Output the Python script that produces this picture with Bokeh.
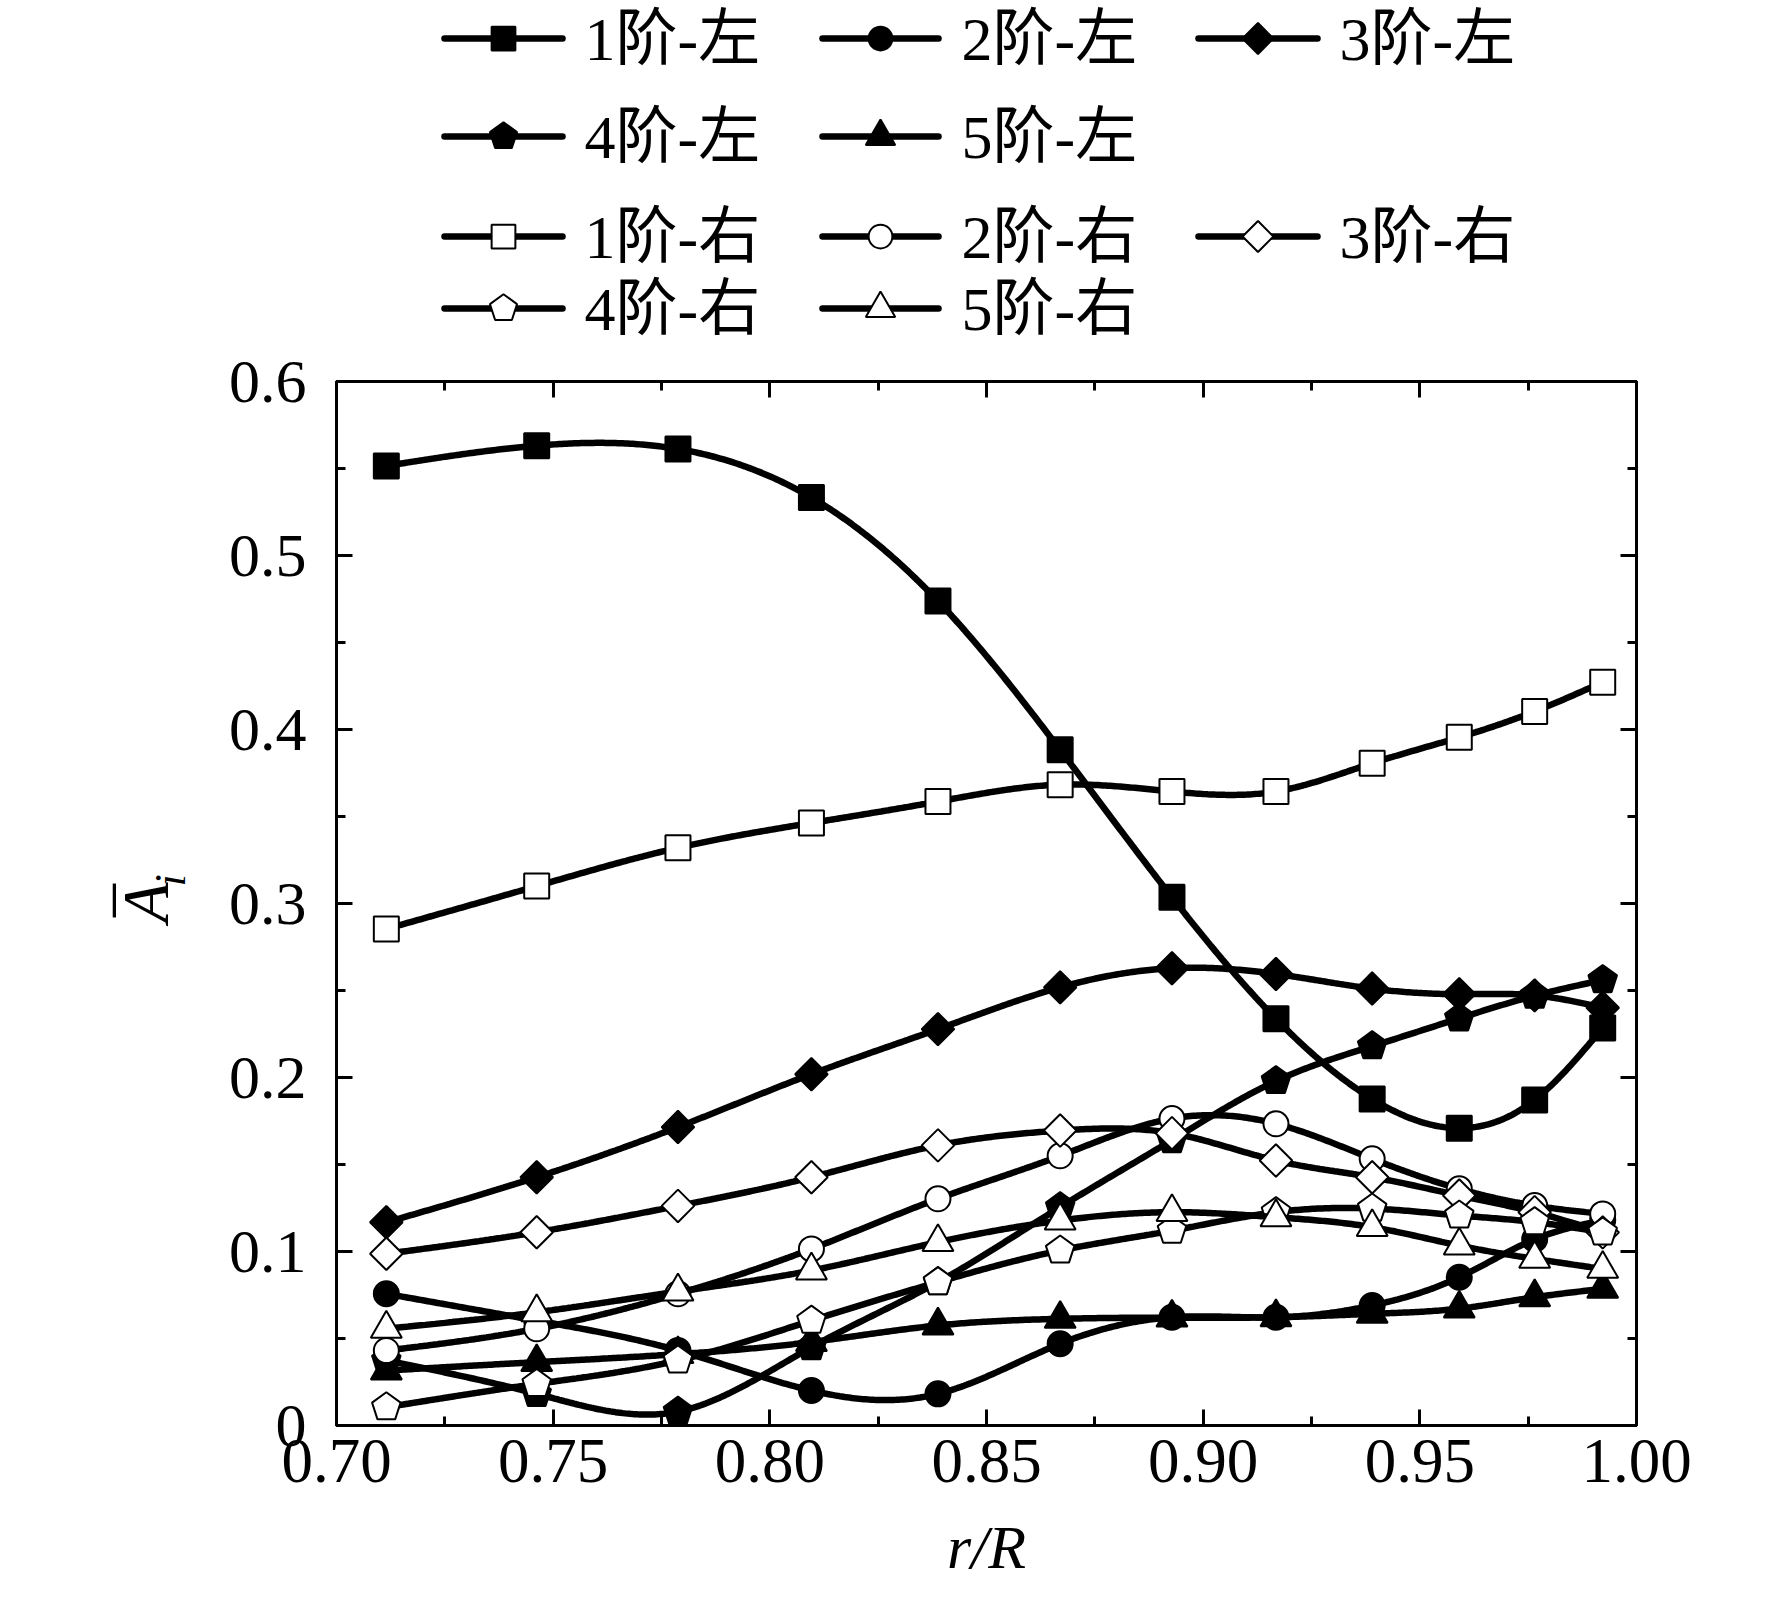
import numpy as np
from bokeh.plotting import figure
from bokeh.layouts import column, row
from bokeh.models import Range1d, LinearAxis, FixedTicker, PrintfTickFormatter, CustomJSTickFormatter
from bokeh.core.properties import value
from bokeh.embed import file_html
from bokeh.resources import INLINE

# ---------------- data ----------------
r_R = [0.7115, 0.7462, 0.7788, 0.8096, 0.8388, 0.8670, 0.8928, 0.9168, 0.9390, 0.9591, 0.9765, 0.9922]
mode1_left = [0.5515, 0.5631, 0.5612, 0.5333, 0.4738, 0.3883, 0.3036, 0.2337, 0.1877, 0.1709, 0.1871, 0.2285]
mode2_left = [0.0757, 0.0603, 0.0431, 0.0201, 0.0182, 0.0470, 0.0622, 0.0622, 0.0690, 0.0852, 0.1070, 0.1180]
mode3_left = [0.1168, 0.1427, 0.1715, 0.2019, 0.2278, 0.2518, 0.2628, 0.2595, 0.2511, 0.2479, 0.2472, 0.2401]
mode4_left = [0.0374, 0.0182, 0.0080, 0.0450, 0.0824, 0.1255, 0.1640, 0.1980, 0.2180, 0.2340, 0.2470, 0.2560]
mode5_left = [0.0316, 0.0364, 0.0410, 0.0480, 0.0575, 0.0613, 0.0620, 0.0622, 0.0642, 0.0672, 0.0737, 0.0785]
mode1_right = [0.2854, 0.3100, 0.3320, 0.3463, 0.3586, 0.3683, 0.3644, 0.3644, 0.3806, 0.3955, 0.4104, 0.4272]
mode2_right = [0.0431, 0.0556, 0.0757, 0.1015, 0.1303, 0.1550, 0.1764, 0.1734, 0.1533, 0.1360, 0.1264, 0.1216]
mode3_right = [0.0987, 0.1111, 0.1262, 0.1427, 0.1610, 0.1695, 0.1680, 0.1523, 0.1427, 0.1322, 0.1226, 0.1110]
mode4_right = [0.0105, 0.0239, 0.0374, 0.0603, 0.0824, 0.1006, 0.1120, 0.1226, 0.1247, 0.1207, 0.1169, 0.1110]
mode5_right = [0.0556, 0.0651, 0.0770, 0.0891, 0.1054, 0.1178, 0.1226, 0.1197, 0.1140, 0.1034, 0.0958, 0.0900]

labels = ["1阶-左", "2阶-左", "3阶-左", "4阶-左", "5阶-左",
          "1阶-右", "2阶-右", "3阶-右", "4阶-右", "5阶-右"]
values = [mode1_left, mode2_left, mode3_left, mode4_left, mode5_left,
          mode1_right, mode2_right, mode3_right, mode4_right, mode5_right]
markers = ["square", "circle", "diamond", "pentagon", "triangle"] * 2
filled = [True] * 5 + [False] * 5

x_ticks = [0.70, 0.75, 0.80, 0.85, 0.90, 0.95, 1.00]
x_minor = [0.725, 0.775, 0.825, 0.875, 0.925, 0.975]
y_ticks = [0.0, 0.1, 0.2, 0.3, 0.4, 0.5, 0.6]
y_minor = [0.05, 0.15, 0.25, 0.35, 0.45, 0.55]

SERIF = "Liberation Serif"
CJK = "'Liberation Serif', 'Noto Sans CJK SC', serif"
LW = 6.5

# page geometry (px)
W, H = 1772, 1613
LEG_H = 345
YLAB_W = 200
FRAME_L, FRAME_R, FRAME_T, FRAME_B = 336, 1636, 381, 1425


def natural_spline(x, y, n=500):
    x = np.asarray(x, float)
    y = np.asarray(y, float)
    k = len(x)
    h = np.diff(x)
    A = np.zeros((k, k))
    b = np.zeros(k)
    A[0, 0] = A[-1, -1] = 1.0
    for i in range(1, k - 1):
        A[i, i - 1] = h[i - 1]
        A[i, i] = 2 * (h[i - 1] + h[i])
        A[i, i + 1] = h[i]
        b[i] = 6 * ((y[i + 1] - y[i]) / h[i] - (y[i] - y[i - 1]) / h[i - 1])
    M = np.linalg.solve(A, b)
    xs = np.linspace(x[0], x[-1], n)
    idx = np.clip(np.searchsorted(x, xs) - 1, 0, k - 2)
    x0, x1 = x[idx], x[idx + 1]
    hh = x1 - x0
    t0, t1 = x1 - xs, xs - x0
    ys = (M[idx] * t0 ** 3 + M[idx + 1] * t1 ** 3) / (6 * hh) \
        + (y[idx] / hh - M[idx] * hh / 6) * t0 + (y[idx + 1] / hh - M[idx + 1] * hh / 6) * t1
    return xs, ys


def draw_marker(fig, x, y, kind, fill, scale=1.0):
    fc = "black" if fill else "white"
    lw = 2
    if kind == "square":
        fig.scatter(x, y, marker="square", size=25 * scale, fill_color=fc, line_color="black", line_width=lw)
    elif kind == "circle":
        fig.scatter(x, y, marker="circle", size=25 * scale, fill_color=fc, line_color="black", line_width=lw)
    elif kind == "diamond":
        fig.scatter(x, y, marker="square", angle=np.pi / 4, size=23 * scale, fill_color=fc,
                    line_color="black", line_width=lw)
    elif kind == "triangle":
        fig.scatter(x, y, marker="triangle", size=31 * scale, fill_color=fc, line_color="black", line_width=lw)
    elif kind == "pentagon":
        fig.ngon(x, y, radius=15 * scale, n=5, radius_units="screen", angle=0,
                 fill_color=fc, line_color="black", line_width=lw)


def blank(fig):
    fig.axis.visible = False
    fig.grid.visible = False
    fig.outline_line_color = None


# ---------------- legend figure (coordinates = page pixels) ----------------
leg = figure(width=W, height=LEG_H, x_range=Range1d(0, FRAME_R), y_range=Range1d(LEG_H, 0),
             toolbar_location=None, output_backend="svg",
             min_border_left=0, min_border_right=W - FRAME_R, min_border_top=0, min_border_bottom=0)
blank(leg)

col_line0 = [444, 822, 1198]
col_line1 = [562, 938, 1317]
col_text = [584, 961, 1339]
row_y = [38, 136, 236, 308]
slots = [(0, 0), (0, 1), (0, 2), (1, 0), (1, 1), (2, 0), (2, 1), (2, 2), (3, 0), (3, 1)]

for lab, mk, fl, (r, c) in zip(labels, markers, filled, slots):
    yy = row_y[r]
    leg.line([col_line0[c], col_line1[c]], [yy, yy], line_width=LW, line_color="black", line_cap="round")
    draw_marker(leg, [(col_line0[c] + col_line1[c]) / 2], [yy], mk, fl, scale=0.95)
    leg.text([col_text[c]], [yy], text=[lab], text_font=value(CJK), text_font_size="62px",
             text_baseline="middle", text_align="left", text_color="black")

# ---------------- y-label figure (coordinates = page pixels) ----------------
ylab = figure(width=YLAB_W, height=H - LEG_H, x_range=Range1d(0, YLAB_W),
              y_range=Range1d(FRAME_B, FRAME_T),
              toolbar_location=None, output_backend="svg",
              min_border_left=0, min_border_right=0,
              min_border_top=FRAME_T - LEG_H, min_border_bottom=H - FRAME_B)
blank(ylab)
ylab.text([145], [902], text=["A"], angle=np.pi / 2, text_font=value(SERIF), text_font_style=value("italic"),
          text_font_size="66px", text_align="center", text_baseline="middle", text_color="black")
ylab.text([107], [900], text=["–"], angle=np.pi / 2, text_font=value(SERIF),
          text_font_size="66px", text_align="center", text_baseline="middle", text_color="black")
ylab.text([170], [880], text=["i"], angle=np.pi / 2, text_font=value(SERIF), text_font_style=value("italic"),
          text_font_size="44px", text_align="center", text_baseline="middle", text_color="black")

# ---------------- main figure ----------------
p = figure(width=W - YLAB_W, height=H - LEG_H, x_range=Range1d(0.7, 1.0), y_range=Range1d(0, 0.6),
           toolbar_location=None, output_backend="svg",
           min_border_left=FRAME_L - YLAB_W, min_border_right=W - FRAME_R,
           min_border_top=FRAME_T - LEG_H, min_border_bottom=H - FRAME_B)
p.grid.visible = False
p.outline_line_color = "black"
p.outline_line_width = 3
p.background_fill_color = "white"

bottom = p.below[0]
left = p.left[0]

for vals, mk, fl in zip(values, markers, filled):
    xs, ys = natural_spline(r_R, vals)
    p.line(xs, ys, line_width=LW, line_color="black")
    draw_marker(p, r_R, vals, mk, fl)

right = LinearAxis()
top = LinearAxis()
p.add_layout(right, "right")
p.add_layout(top, "above")

for ax in [bottom, top]:
    ax.ticker = FixedTicker(ticks=x_ticks, minor_ticks=x_minor)
for ax in [left, right]:
    ax.ticker = FixedTicker(ticks=y_ticks, minor_ticks=y_minor)

for ax in [bottom, left, right, top]:
    ax.axis_line_width = 3
    ax.axis_line_color = "black"
    ax.major_tick_in = 16
    ax.major_tick_out = 0
    ax.minor_tick_in = 9
    ax.minor_tick_out = 0
    ax.major_tick_line_width = 3
    ax.minor_tick_line_width = 3
    ax.major_tick_line_color = "black"
    ax.minor_tick_line_color = "black"
    ax.major_label_text_font = SERIF
    ax.major_label_text_color = "black"

for ax in [right, top]:
    ax.formatter = CustomJSTickFormatter(code="return ''")
    ax.major_label_text_font_size = "1px"
    ax.major_label_standoff = 0

bottom.formatter = PrintfTickFormatter(format="%.2f")
bottom.major_label_text_font_size = "63px"
bottom.major_label_standoff = 14
bottom.axis_label = "r/R"
bottom.axis_label_text_font = SERIF
bottom.axis_label_text_font_style = "italic"
bottom.axis_label_text_font_size = "62px"
bottom.axis_label_standoff = 28
bottom.axis_label_text_color = "black"

left.formatter = PrintfTickFormatter(format="%.1f")
left.major_label_overrides = {0: "0"}
left.major_label_text_font_size = "62px"
left.major_label_standoff = 30

layout = column(leg, row(ylab, p, spacing=0), spacing=0)
open("out.html", "w").write(file_html(layout, INLINE))
